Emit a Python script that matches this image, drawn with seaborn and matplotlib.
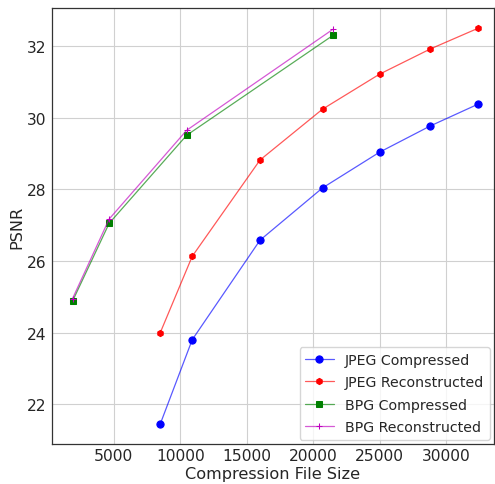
import matplotlib
matplotlib.use("Agg")
import matplotlib.pyplot as plt
import seaborn as sns
import pandas as pd

# ── Data ───────────────────────────────────────────────────────────────────
jpeg_size = [8500, 10900, 16000, 20700, 25000, 28800, 32400]
jpeg_comp_psnr = [21.45, 23.8, 26.58, 28.04, 29.04, 29.77, 30.38]
jpeg_recon_psnr = [24.0, 26.13, 28.82, 30.24, 31.22, 31.92, 32.5]

bpg_size = [1900, 4650, 10480, 21480]
bpg_comp_psnr = [24.88, 27.05, 29.51, 32.3]
bpg_recon_psnr = [24.95, 27.17, 29.65, 32.47]

series = [
    ("JPEG Compressed", jpeg_size, jpeg_comp_psnr, "blue", "o", 5.2),
    ("JPEG Reconstructed", jpeg_size, jpeg_recon_psnr, "red", "h", 4.5),
    ("BPG Compressed", bpg_size, bpg_comp_psnr, "green", "s", 3.8),
    ("BPG Reconstructed", bpg_size, bpg_recon_psnr, "m", "+", 5),
]


def soften(line):
    # lighter line, fully opaque marker
    c = line.get_color()
    line.set_color(matplotlib.colors.to_rgba(c, 0.65))
    line.set_markerfacecolor(matplotlib.colors.to_rgba(c, 1))
    line.set_markeredgecolor(matplotlib.colors.to_rgba(c, 1))


sns.set_style("whitegrid")
plt.rcParams["font.family"] = ["DejaVu Sans"]

fig = plt.figure(figsize=(4.95, 4.85), dpi=100)
ax = fig.add_axes([0.105, 0.082, 0.893, 0.899])

for name, xs, ys, color, marker, ms in series:
    df = pd.DataFrame({"size": xs, "psnr": ys})
    sns.lineplot(data=df, x="size", y="psnr", ax=ax, color=color, marker=marker,
                 markersize=ms, markeredgecolor=color, linewidth=0.9,
                 label=name)

for line in ax.get_lines():
    soften(line)

ax.set_xlim(350, 33600)
ax.set_ylim(20.88, 33.06)
ax.set_xticks([5000, 10000, 15000, 20000, 25000, 30000])
ax.set_yticks([22, 24, 26, 28, 30, 32])
ax.tick_params(labelsize=11.2, length=0, pad=4)
ax.tick_params(axis="x", pad=3)
ax.set_xlabel("Compression File Size", fontsize=11.6, labelpad=2)
ax.set_ylabel("PSNR", fontsize=11.6, labelpad=2)
ax.grid(True, color="#d0d0d0", linewidth=0.8)
for sp in ax.spines.values():
    sp.set_color("#333333")
    sp.set_linewidth(0.9)

ax.legend(loc="lower right", fontsize=10.2, frameon=True, borderaxespad=0.3,
          labelspacing=0.6)
for line in ax.get_legend().get_lines():
    soften(line)

plt.savefig("out.png", dpi=100)
plt.close()
